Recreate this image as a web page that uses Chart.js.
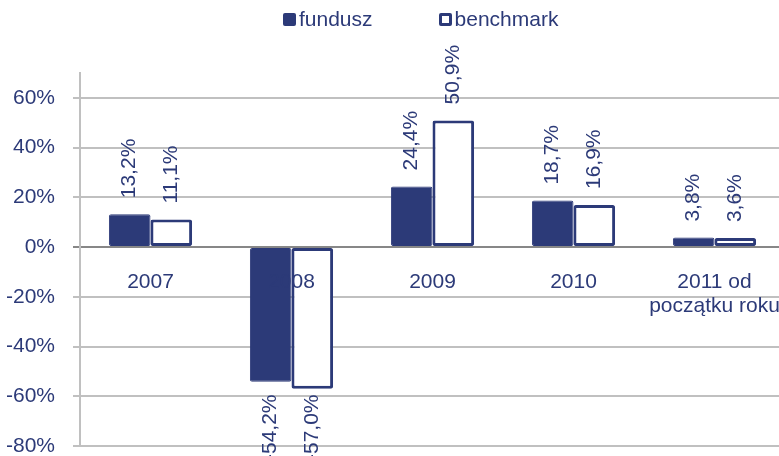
<!DOCTYPE html>
<html>
<head>
<meta charset="utf-8">
<script src="https://cdn.jsdelivr.net/npm/chart.js@4.4.0/dist/chart.umd.min.js"></script>
<style>
    body { margin: 0; background: #fff; }
    /* el área del gráfico sobresale unos píxeles por la derecha, como en el original */
    #wrap { position: relative; width: 779px; height: 456px; overflow: hidden; }
    #legend {
        position: absolute; left: 283px; top: 9px;
        display: flex; align-items: center;
        font: 21px "Liberation Sans", Arial, sans-serif; line-height: 20px; color: #2c3a78;
    }
    #legend .item { display: flex; align-items: center; margin-right: 66px; }
    #legend .box { width: 13px; height: 13px; box-sizing: border-box; margin-right: 3px; border-radius: 2px; }
</style>
</head>
<body>
<div id="wrap">
    <canvas id="chart" width="785" height="456"></canvas>
    <div id="legend"></div>
</div>
<script>
const NAVY = '#2c3a78';

const categories = ['2007', '2008', '2009', '2010', ['2011 od', 'początku roku']];
const seriesNames = ['fundusz', 'benchmark'];
const funduszValues = [13.2, -54.2, 24.4, 18.7, 3.8];
const benchmarkValues = [11.1, -57.0, 50.9, 16.9, 3.6];
const yTicks = [-80, -60, -40, -20, 0, 20, 40, 60];

const FONT = { family: '"Liberation Sans", Arial, sans-serif', size: 21 };

function formatPct(v) {
    return v.toFixed(1).replace('.', ',') + '%';
}

// etiquetas verticales encima / debajo de cada barra
const valueLabels = {
    id: 'valueLabels',
    afterDatasetsDraw(chart) {
        const ctx = chart.ctx;
        ctx.save();
        ctx.font = `${FONT.size}px ${FONT.family}`;
        ctx.fillStyle = NAVY;
        ctx.textAlign = 'left';
        ctx.textBaseline = 'middle';
        chart.data.datasets.forEach((ds, i) => {
            chart.getDatasetMeta(i).data.forEach((bar, j) => {
                const v = ds.data[j];
                const text = formatPct(v);
                const w = ctx.measureText(text).width;
                let start;
                if (v >= 0) {
                    start = bar.y - 16;
                } else {
                    start = Math.min(bar.y + 15 + w, chart.height + 5);
                }
                ctx.save();
                ctx.translate(bar.x, start);
                ctx.rotate(-Math.PI / 2);
                ctx.fillText(text, 0, 0);
                ctx.restore();
            });
        });
        ctx.restore();
    }
};

const config = {
    type: 'bar',
    data: {
        labels: categories,
        datasets: [
            {
                label: seriesNames[0],
                data: funduszValues,
                backgroundColor: NAVY,
                borderColor: NAVY,
                borderWidth: 1,
                borderRadius: 2,
                borderSkipped: false,
                categoryPercentage: 0.59,
                barPercentage: 1
            },
            {
                label: seriesNames[1],
                data: benchmarkValues,
                backgroundColor: '#ffffff',
                borderColor: NAVY,
                borderWidth: 3,
                borderRadius: 2,
                borderSkipped: false,
                categoryPercentage: 0.59,
                barPercentage: 1
            }
        ]
    },
    options: {
        responsive: false,
        animation: false,
        layout: { padding: { top: 73, bottom: 10, left: 7, right: 0 } },
        plugins: {
            legend: { display: false },
            tooltip: { enabled: false }
        },
        scales: {
            x: {
                position: { y: 0 },
                afterFit: (scale) => {
                    scale.height = 0;
                    scale.paddingLeft = 0;
                    scale.paddingRight = 0;
                    scale.paddingTop = 0;
                    scale.paddingBottom = 0;
                },
                grid: { display: false, drawTicks: false },
                border: { display: false },
                ticks: {
                    z: 1,
                    color: NAVY,
                    font: { ...FONT, lineHeight: 1.1 },
                    padding: 24,
                    autoSkip: false,
                    maxRotation: 0
                }
            },
            y: {
                min: -80,
                max: 70,
                afterFit: (scale) => {
                    scale.width = 73;
                    scale.paddingTop = 0;
                    scale.paddingBottom = 0;
                },
                afterBuildTicks: (scale) => { scale.ticks = yTicks.map(v => ({ value: v })); },
                grid: {
                    color: (c) => (c.tick && c.tick.value === 0) ? '#878787' : '#c0c0c0',
                    lineWidth: 2,
                    tickLength: 7
                },
                border: { display: true, color: '#c0c0c0', width: 2 },
                ticks: {
                    color: NAVY,
                    font: { ...FONT, lineHeight: 1 },
                    padding: 18,
                    callback: (v) => v + '%'
                }
            }
        }
    },
    plugins: [valueLabels]
};

const chart = new Chart(document.getElementById('chart'), config);

// leyenda en HTML
const legend = document.getElementById('legend');
chart.data.datasets.forEach((ds) => {
    const item = document.createElement('div');
    item.className = 'item';
    const box = document.createElement('span');
    box.className = 'box';
    box.style.background = ds.backgroundColor;
    box.style.border = `${ds.borderWidth >= 3 ? 3 : 0}px solid ${ds.borderColor}`;
    const txt = document.createElement('span');
    txt.textContent = ds.label;
    item.appendChild(box);
    item.appendChild(txt);
    legend.appendChild(item);
});
</script>
</body>
</html>
